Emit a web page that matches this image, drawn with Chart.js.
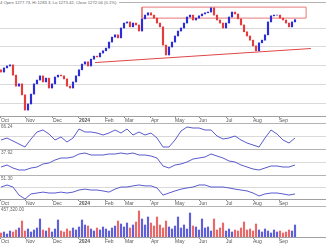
<!DOCTYPE html>
<html>
<head>
<meta charset="utf-8">
<script src="https://cdn.jsdelivr.net/npm/chart.js@4.4.1/dist/chart.umd.min.js"></script>
<style>
  body { margin: 0; background: #fff; }
  #wrap { position: relative; width: 326px; height: 245px; overflow: hidden; background: #fff; }
  canvas { position: absolute; left: 0; }
  .hl { position: absolute; left: 0; width: 326px; height: 1px; background: #b4b4b4; }
  .lbl { position: absolute; left: 1px; font: 4.6px "Liberation Sans", Arial, sans-serif; color: #666; white-space: nowrap; line-height: 5px; }
</style>
</head>
<body>
<div id="wrap">
  <div class="hl" style="top:2px"></div>
  <div class="hl" style="top:123px"></div>
  <div class="hl" style="top:149px"></div>
  <div class="hl" style="top:175px"></div>
  <div class="hl" style="top:206px"></div>
  <canvas id="price" width="326" height="124" style="top:0"></canvas>
  <canvas id="ind1" width="326" height="25" style="top:124px"></canvas>
  <canvas id="ind2" width="326" height="25" style="top:150px"></canvas>
  <canvas id="ind3" width="326" height="31" style="top:176px"></canvas>
  <canvas id="vol" width="326" height="38" style="top:207px"></canvas>
  <div class="lbl" style="top:0;left:0;padding-right:3px;font-size:4.2px;background:#fff">4 Open 1277.73, Hi 1283.3, Lo 1273.42, Close 1272.04 (0.1%)</div>
  <div class="lbl" style="top:124px">66.24</div>
  <div class="lbl" style="top:150px">37.92</div>
  <div class="lbl" style="top:176px">51.30</div>
  <div class="lbl" style="top:207px">457,320.00</div>
</div>
<script>
// month ticks (in bar index units) and their labels
const monthTicks = [0, 8.33, 17.33, 26, 34.67, 41.33, 50, 58, 66, 75, 84, 92.67];
const monthLabels = ['Oct', 'Nov', 'Dec', '2024', 'Feb', 'Mar', 'Apr', 'May', 'Jun', 'Jul', 'Aug', 'Sep'];

// closing prices, one bar every ~2 trading days
const firstOpen = 1140;
const closes = [
  1134, 1145, 1150, 1153, 1126, 1097, 1103, 1074, 1034, 1050,
  1076, 1103, 1113, 1124, 1108, 1118, 1092, 1103, 1121, 1126,
  1124, 1116, 1097, 1092, 1108, 1124, 1140, 1155, 1161, 1150,
  1168, 1176, 1174, 1184, 1190, 1197, 1213, 1226, 1232, 1224,
  1250, 1263, 1266, 1253, 1263, 1258, 1242, 1274, 1284, 1290,
  1284, 1276, 1263, 1253, 1205, 1179, 1200, 1213, 1229, 1242,
  1250, 1263, 1279, 1284, 1271, 1276, 1282, 1287, 1290, 1292,
  1303, 1284, 1271, 1263, 1250, 1263, 1279, 1292, 1287, 1274,
  1258, 1240, 1229, 1218, 1203, 1190, 1211, 1218, 1232, 1266,
  1282, 1284, 1284, 1276, 1271, 1263, 1253, 1266, 1272
];

const volumes = [
  68000, 85000, 51000, 102000, 85000, 119000, 153000, 272000, 102000, 136000,
  85000, 119000, 153000, 306000, 119000, 102000, 153000, 85000, 136000, 289000,
  102000, 85000, 136000, 102000, 153000, 119000, 170000, 289000, 204000, 187000,
  136000, 102000, 153000, 119000, 170000, 136000, 102000, 153000, 187000, 272000,
  221000, 170000, 238000, 153000, 204000, 255000, 442000, 306000, 204000, 340000,
  238000, 187000, 340000, 204000, 153000, 272000, 170000, 136000, 187000, 340000,
  153000, 204000, 136000, 408000, 187000, 170000, 119000, 306000, 153000, 170000,
  102000, 306000, 119000, 153000, 238000, 102000, 136000, 85000, 119000, 102000,
  153000, 255000, 119000, 136000, 102000, 221000, 119000, 85000, 136000, 102000,
  68000, 119000, 85000, 102000, 68000, 85000, 119000, 102000, 204000
];

// indicators, one value every 2 bars (0..100 scale)
const ind1 = [
  36, 44, 32, 20, 8, 40, 68, 76, 60, 36, 48, 28, 44, 80, 68, 68, 64, 56, 64, 76,
  64, 80, 56, 68, 56, 64, 44, 8, 8, 36, 72, 88, 84, 84, 76, 76, 52, 40, 44, 52,
  36, 24, 16, 8, 44, 76, 60, 36, 24, 44
];
const ind2 = [
  32, 40, 28, 20, 20, 28, 32, 44, 48, 60, 68, 68, 72, 84, 88, 80, 80, 80, 84, 84,
  88, 84, 88, 80, 80, 76, 68, 36, 28, 40, 44, 52, 64, 68, 72, 84, 76, 68, 56, 52,
  40, 32, 24, 20, 28, 36, 36, 32, 32, 40
];
const ind3 = [
  52, 61, 52, 17, 0, 22, 26, 30, 26, 26, 30, 26, 30, 39, 43, 39, 39, 35, 30, 43,
  52, 52, 57, 61, 57, 57, 48, 17, 26, 35, 43, 48, 52, 61, 61, 52, 52, 52, 48, 43,
  39, 35, 26, 13, 22, 26, 26, 22, 17, 22
];

// drawn annotations (bar index / price)
const trendX = [31.3, 103.3];
const trendY = [1159, 1196];
const boxX = [47, 101.7];
const boxY = [1276, 1305];
const priceGrid = [1050, 1100, 1150, 1200, 1250];

const BLUE = 'rgb(45, 45, 215)';
const RED = 'rgb(228, 60, 60)';
const VOL_BLUE = 'rgb(95, 95, 215)';
const VOL_RED = 'rgb(232, 105, 105)';
const LINE = 'rgb(90, 90, 205)';

Chart.defaults.font.family = '"Liberation Sans", Arial, sans-serif';
Chart.defaults.animation = false;
Chart.defaults.plugins.legend.display = false;
Chart.defaults.plugins.tooltip.enabled = false;

const opens = closes.map((c, i) => i ? closes[i - 1] : firstOpen);
const isUp = closes.map((c, i) => c >= opens[i]);

function xAxis(show) {
    return {
        type: 'linear', min: -0.33, max: 108.33, offset: false, display: show,
        grid: { drawOnChartArea: false, drawTicks: true, tickLength: 2, tickColor: '#888', offset: false },
        border: { color: '#a0a0a0' },
        afterBuildTicks: s => { s.ticks = monthTicks.map(v => ({ value: v })); },
        ticks: {
            align: 'start', padding: 0, maxRotation: 0, autoSkip: false, color: '#555',
            font: c => ({ size: 5, weight: monthLabels[c.index] === '2024' ? 'bold' : 'normal' }),
            callback: (v, i) => monthLabels[i]
        }
    };
}

function yAxis(min, max, grid) {
    return {
        min: min, max: max, display: true,
        afterBuildTicks: s => { s.ticks = grid.map(v => ({ value: v })); },
        ticks: { display: false },
        grid: { color: '#dadada', drawTicks: false },
        border: { display: false },
        afterFit: s => { s.width = 0; }
    };
}

const baseOpts = {
    responsive: false,
    maintainAspectRatio: false,
    layout: { padding: 0 }
};

// price panel
new Chart(document.getElementById('price'), {
    type: 'bar',
    data: {
        datasets: [{
            data: closes.map((c, i) => ({ x: i, y: [opens[i], c] })),
            backgroundColor: isUp.map(u => u ? BLUE : RED),
            barThickness: 1.5,
            borderWidth: 0
        }, {
            type: 'line',
            data: trendX.map((x, i) => ({ x: x, y: trendY[i] })),
            borderColor: 'rgb(222, 70, 70)',
            borderWidth: 1,
            pointRadius: 0
        }, {
            type: 'line',
            data: [
                { x: boxX[0], y: boxY[0] }, { x: boxX[1], y: boxY[0] },
                { x: boxX[1], y: boxY[1] }, { x: boxX[0], y: boxY[1] },
                { x: boxX[0], y: boxY[0] }
            ],
            borderColor: 'rgb(232, 120, 120)',
            borderWidth: 1,
            pointRadius: 0
        }]
    },
    options: {
        ...baseOpts,
        layout: { padding: { top: 3 } },
        scales: {
            x: xAxis(true),
            y: yAxis(1018.4, 1315.8, priceGrid)
        }
    }
});

function indicator(id, values, showX) {
    new Chart(document.getElementById(id), {
        type: 'line',
        data: {
            datasets: [{
                data: values.map((v, k) => ({ x: k * 2, y: v })),
                borderColor: LINE,
                borderWidth: 1,
                pointRadius: 0
            }]
        },
        options: {
            ...baseOpts,
            scales: {
                x: xAxis(showX),
                y: yAxis(0, 100, [50])
            }
        }
    });
}

indicator('ind1', ind1, false);
indicator('ind2', ind2, false);
indicator('ind3', ind3, true);

// volume panel
new Chart(document.getElementById('vol'), {
    type: 'bar',
    data: {
        datasets: [{
            data: volumes.map((v, i) => ({ x: i, y: v })),
            backgroundColor: isUp.map(u => u ? VOL_BLUE : VOL_RED),
            barThickness: 1.5,
            borderWidth: 0
        }]
    },
    options: {
        ...baseOpts,
        scales: {
            x: xAxis(true),
            y: yAxis(0, 510000, [])
        }
    }
});
</script>
</body>
</html>
